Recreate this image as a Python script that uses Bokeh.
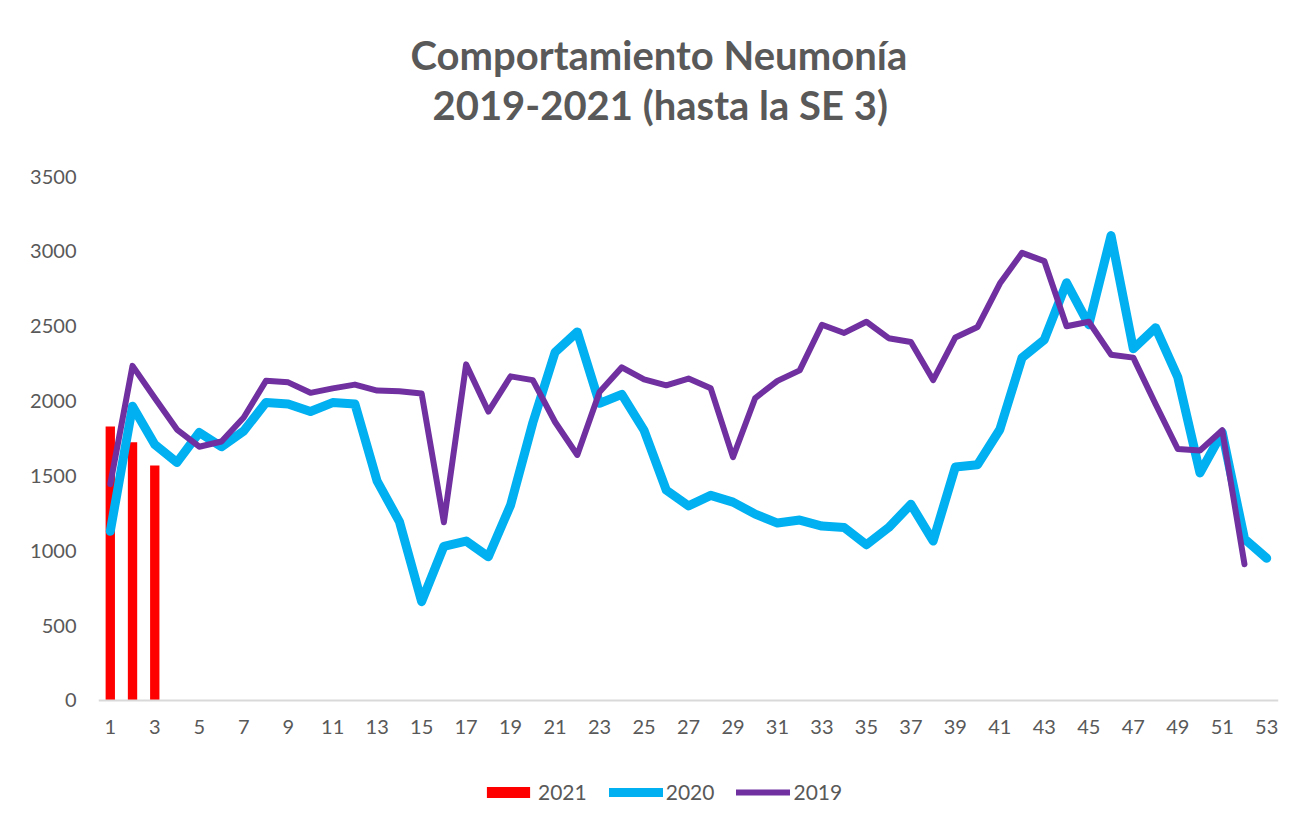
from bokeh.plotting import figure
from bokeh.models import FixedTicker, Legend, LegendItem, ColumnDataSource, Range1d, Title
from bokeh.embed import file_html
from bokeh.resources import INLINE

weeks_2021 = [1, 2, 3]
cases_2021 = [1830, 1725, 1570]

weeks_2020 = list(range(1, 54))
cases_2020 = [1130, 1965, 1710, 1590, 1790, 1695, 1800, 1990, 1980, 1930,
              1990, 1980, 1465, 1195, 660, 1030, 1065, 960, 1305, 1855,
              2326, 2462, 1985, 2045, 1805, 1405, 1300, 1370, 1325, 1245,
              1185, 1205, 1165, 1155, 1040, 1155, 1310, 1065, 1560, 1575,
              1810, 2290, 2410, 2790, 2510, 3105, 2350, 2490, 2160, 1520,
              1790, 1080, 950]

weeks_2019 = list(range(1, 53))
cases_2019 = [1445, 2235, 2020, 1810, 1695, 1730, 1890, 2135, 2125, 2055,
              2085, 2110, 2070, 2065, 2050, 1190, 2245, 1930, 2165, 2140,
              1860, 1640, 2060, 2225, 2145, 2105, 2150, 2085, 1625, 2020,
              2135, 2205, 2510, 2455, 2530, 2420, 2395, 2140, 2425, 2495,
              2785, 2990, 2935, 2500, 2530, 2310, 2290, 1980, 1680, 1670,
              1805, 910]

x_tick_labels = list(range(1, 54, 2))
y_ticks = [0, 500, 1000, 1500, 2000, 2500, 3000, 3500]
title_lines = ["Comportamiento Neumonía", "2019-2021 (hasta la SE 3)"]

FONT = "Lato"
GREY = "#595959"

p = figure(frame_width=1180, frame_height=640, x_range=Range1d(0.47, 53.53),
           y_range=Range1d(-775, 3500),
           output_backend="svg", toolbar_location=None,
           min_border_left=98, min_border_right=15, min_border_top=176,
           min_border_bottom=0)

# two centred title lines (added closest-first)
for txt, off, so in [(title_lines[1], 334, 95), (title_lines[0], 312, -94)]:
    t = Title(text=txt, align="left", offset=off, standoff=so,
              text_font=FONT, text_font_size="40px", text_font_style="bold",
              text_color=GREY)
    p.add_layout(t, "above")

p.outline_line_color = None
p.grid.grid_line_color = None
p.background_fill_color = "white"
p.border_fill_color = "white"

src21 = ColumnDataSource(dict(x=weeks_2021, y=cases_2021))
src20 = ColumnDataSource(dict(x=weeks_2020, y=cases_2020))
src19 = ColumnDataSource(dict(x=weeks_2019, y=cases_2019))

bars = p.vbar(x="x", top="y", bottom=0, width=0.42, source=src21,
              fill_color="#FF0000", line_color=None)
l20 = p.line("x", "y", source=src20, line_color="#00B0F0", line_width=9,
             line_join="round", line_cap="round")
l19 = p.line("x", "y", source=src19, line_color="#7030A0", line_width=6,
             line_join="round", line_cap="round")

xa = p.xaxis[0]
xa.fixed_location = 0
xa.ticker = FixedTicker(ticks=x_tick_labels)
xa.major_tick_line_color = None
xa.minor_tick_line_color = None
xa.axis_line_color = "#d9d9d9"
xa.axis_line_width = 2
xa.major_label_text_font = FONT
xa.major_label_text_font_size = "20px"
xa.major_label_text_color = GREY
xa.major_label_standoff = 14

ya = p.yaxis[0]
ya.ticker = FixedTicker(ticks=y_ticks)
ya.major_tick_line_color = None
ya.minor_tick_line_color = None
ya.axis_line_color = None
ya.major_label_text_font = FONT
ya.major_label_text_font_size = "20px"
ya.major_label_text_color = GREY
ya.major_label_standoff = 16

legend = Legend(items=[LegendItem(label="2021", renderers=[bars]),
                       LegendItem(label="2020", renderers=[l20]),
                       LegendItem(label="2019", renderers=[l19])],
                orientation="horizontal", location=(383, 12),
                glyph_width=54, glyph_height=14, label_standoff=3, spacing=22,
                margin=0, padding=0, border_line_color=None,
                background_fill_alpha=0,
                label_text_font=FONT, label_text_font_size="21px",
                label_text_color=GREY)
p.add_layout(legend, "center")

open("out.html", "w").write(file_html(p, INLINE))
